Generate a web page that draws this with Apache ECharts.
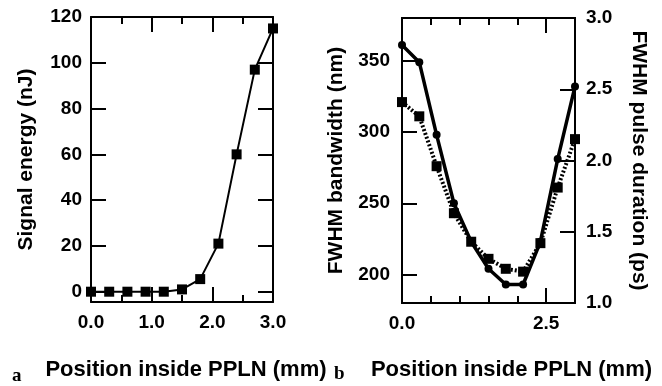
<!DOCTYPE html>
<html>
<head>
<meta charset="utf-8">
<script src="https://cdn.jsdelivr.net/npm/echarts@6/dist/echarts.min.js"></script>
<style>
html,body{margin:0;padding:0;background:#fff;}
#chart{width:662px;height:386px;}
</style>
</head>
<body>
<div id="chart"></div>
<script>
// ---- data ----
const positions = [0, 0.3, 0.6, 0.9, 1.2, 1.5, 1.8, 2.1, 2.4, 2.7, 3.0];
const signalEnergy = [0, 0, 0, 0, 0, 1, 5.5, 21, 60, 97, 115];
const bandwidth = [361, 349, 298, 250, 223, 204, 193, 193, 223, 281, 332];
const pulseDuration = [2.41, 2.31, 1.96, 1.63, 1.43, 1.31, 1.24, 1.22, 1.42, 1.81, 2.15];

const energyTicks = [0, 20, 40, 60, 80, 100, 120];
const leftXTicks = [0, 1, 2, 3];
const rightXMajor = [0, 2.5];
const rightXMinor = [0.5, 1, 1.5, 2, 3];
const bandwidthTicks = [200, 250, 300, 350];
const durationTicks = [1.0, 1.5, 2.0, 2.5, 3.0];

const xTitle = 'Position inside PPLN (mm)';
const energyTitle = 'Signal energy (nJ)';
const bwTitle = 'FWHM bandwidth (nm)';
const durTitle = 'FWHM pulse duration (ps)';

// ---- styles ----
const FONT = '"Liberation Sans", Arial, Helvetica, sans-serif';
const black = '#000';
const lineW = 2;
const tickLbl = { color: black, fontFamily: FONT, fontWeight: 'bold', fontSize: 19 };
const nameStyle = { color: black, fontFamily: FONT, fontWeight: 'bold', fontSize: 21 };
const xNameStyle = { color: black, fontFamily: FONT, fontWeight: 'bold', fontSize: 22 };
const axLine = { show: true, onZero: false, lineStyle: { color: black, width: lineW } };
const noLabel = { show: false };
function ticks(len, custom) {
  const t = { show: true, inside: true, length: len, lineStyle: { color: black, width: lineW } };
  if (custom) t.customValues = custom;
  return t;
}
const fmt1 = v => Number(v).toFixed(1);

const pairs = (xs, ys) => xs.map((x, i) => [x, ys[i]]);

const chart = echarts.init(document.getElementById('chart'), null, { renderer: 'canvas' });
chart.setOption({
  animation: false,
  backgroundColor: '#fff',
  grid: [
    { left: 91, top: 17, width: 182, height: 288 },
    { left: 402, top: 18, width: 173, height: 288 }
  ],
  xAxis: [
    { type: 'value', gridIndex: 0, position: 'bottom', min: 0, max: 3, interval: 1,
      axisLine: axLine, axisTick: ticks(15),
      minorTick: { show: true, splitNumber: 2, length: 7, lineStyle: { color: black, width: lineW } },
      axisLabel: Object.assign({ margin: 11, formatter: fmt1, customValues: leftXTicks }, tickLbl),
      splitLine: { show: false },
      name: xTitle, nameLocation: 'middle', nameGap: 57,
      nameTextStyle: Object.assign({ padding: [0, 0, 0, 8] }, xNameStyle) },
    { type: 'value', gridIndex: 0, position: 'top', min: 0, max: 3, interval: 1,
      axisLine: axLine, axisTick: ticks(15),
      minorTick: { show: true, splitNumber: 2, length: 7, lineStyle: { color: black, width: lineW } },
      axisLabel: noLabel, splitLine: { show: false } },
    { type: 'value', gridIndex: 1, position: 'bottom', min: 0, max: 3,
      axisLine: axLine, axisTick: ticks(15, rightXMajor),
      axisLabel: Object.assign({ margin: 11, formatter: fmt1, customValues: rightXMajor }, tickLbl),
      splitLine: { show: false },
      name: xTitle, nameLocation: 'middle', nameGap: 56,
      nameTextStyle: Object.assign({ padding: [0, 0, 0, 46] }, xNameStyle) },
    { type: 'value', gridIndex: 1, position: 'bottom', min: 0, max: 3,
      axisLine: axLine, axisTick: ticks(7, rightXMinor), axisLabel: noLabel, splitLine: { show: false } },
    { type: 'value', gridIndex: 1, position: 'top', min: 0, max: 3,
      axisLine: axLine, axisTick: ticks(15, rightXMajor), axisLabel: noLabel, splitLine: { show: false } },
    { type: 'value', gridIndex: 1, position: 'top', min: 0, max: 3,
      axisLine: axLine, axisTick: ticks(7, rightXMinor), axisLabel: noLabel, splitLine: { show: false } }
  ],
  yAxis: [
    { type: 'value', gridIndex: 0, position: 'left', min: -4.5, max: 120,
      axisLine: axLine, axisTick: ticks(15, energyTicks),
      axisLabel: Object.assign({ margin: 9, customValues: energyTicks }, tickLbl),
      splitLine: { show: false },
      name: energyTitle, nameLocation: 'middle', nameGap: 54, nameRotate: 90,
      nameTextStyle: nameStyle },
    { type: 'value', gridIndex: 0, position: 'right', min: -4.5, max: 120,
      axisLine: axLine, axisTick: ticks(15, energyTicks), axisLabel: noLabel, splitLine: { show: false } },
    { type: 'value', gridIndex: 1, position: 'left', min: 180, max: 380,
      axisLine: axLine, axisTick: ticks(15, bandwidthTicks),
      axisLabel: Object.assign({ margin: 12, customValues: bandwidthTicks }, tickLbl),
      splitLine: { show: false },
      name: bwTitle, nameLocation: 'middle', nameGap: 55, nameRotate: 90,
      nameTextStyle: nameStyle },
    { type: 'value', gridIndex: 1, position: 'right', min: 1, max: 3, interval: 0.5,
      axisLine: axLine, axisTick: ticks(15),
      axisLabel: Object.assign({ margin: 11, formatter: fmt1, customValues: durationTicks }, tickLbl),
      splitLine: { show: false },
      name: durTitle, nameLocation: 'middle', nameGap: 53, nameRotate: -90,
      nameTextStyle: nameStyle }
  ],
  graphic: [
    { type: 'text', left: 12, top: 367,
      style: { text: 'a', fill: black, font: 'bold 19px "Liberation Serif", "Times New Roman", serif' } },
    { type: 'text', left: 334, top: 365,
      style: { text: 'b', fill: black, font: 'bold 19px "Liberation Serif", "Times New Roman", serif' } }
  ],
  series: [
    { type: 'line', name: 'Signal energy', xAxisIndex: 0, yAxisIndex: 0,
      data: pairs(positions, signalEnergy), clip: false,
      symbol: 'rect', symbolSize: 10, showSymbol: true,
      lineStyle: { color: black, width: 2 }, itemStyle: { color: black } },
    { type: 'line', name: 'FWHM pulse duration', xAxisIndex: 2, yAxisIndex: 3,
      data: pairs(positions, pulseDuration), clip: false,
      symbol: 'rect', symbolSize: 10, showSymbol: true,
      lineStyle: { color: black, width: 4, type: [2, 2] }, itemStyle: { color: black } },
    { type: 'line', name: 'FWHM bandwidth', xAxisIndex: 2, yAxisIndex: 2,
      data: pairs(positions, bandwidth), clip: false,
      symbol: 'circle', symbolSize: 8, showSymbol: true,
      lineStyle: { color: black, width: 3.5 }, itemStyle: { color: black } }
  ]
});
</script>
</body>
</html>
